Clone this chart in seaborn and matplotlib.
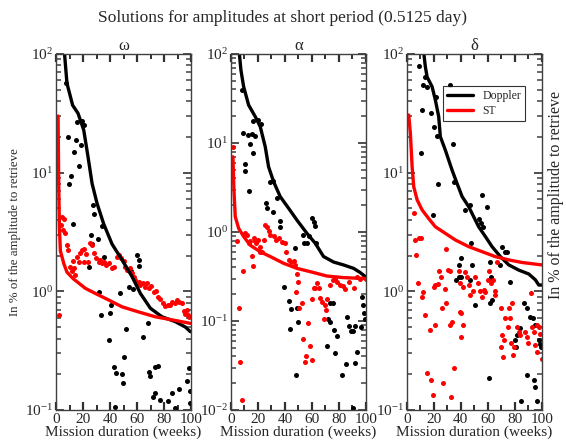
import numpy as np
import pandas as pd
import matplotlib
matplotlib.use('Agg')
import matplotlib.pyplot as plt
import seaborn as sns
from matplotlib.ticker import LogLocator, NullFormatter
from matplotlib.lines import Line2D

# ---- omega panel ----
w_dop_line_x = [6.0, 8.1, 12.3, 16.3, 20.5, 23.7, 26.7, 30.4, 35.3, 41.5, 48.9, 56.3, 62.5, 69.9, 78.5, 88.4, 95.8, 99.5]
w_dop_line_y = [110, 56.6, 37, 31.6, 22.9, 13.6, 8.1, 5.5, 3.7, 2.5, 1.84, 1.33, 0.96, 0.72, 0.61, 0.555, 0.50, 0.457]
w_st_line_x = [1.5, 2.0, 2.5, 3.2, 5.7, 8.1, 13.0, 21.7, 29.1, 39.0, 48.9, 61.2, 73.6, 85.9, 99.5]
w_st_line_y = [30, 8.0, 3.5, 2.2, 1.72, 1.45, 1.27, 1.06, 0.96, 0.845, 0.74, 0.67, 0.61, 0.575, 0.537]
w_dop_pts_x = [7.4, 15.6, 19.3, 20.5, 8.6, 15.1, 18.8, 13.6, 16.8, 11.1, 9.9, 27.4, 28.4, 34.1, 12.6, 25.9,
               30.9, 26.7, 35.3, 24.7, 60.0, 61.2, 61.7, 55.8, 53.8, 57.0, 31.6, 47.2, 41.0, 40.2, 33.3, 68.1,
               51.9, 39.0, 64.2, 50.6, 42.7, 44.7, 48.9, 49.6, 69.1, 69.9, 73.6, 75.6, 73.6, 71.9, 77.3, 83.0,
               85.9, 91.4, 98.3, 97.0, 99.0, 99.5, 87.9, 43.5]
w_dop_pts_y = [57, 26.9, 27, 25, 19.9, 18.8, 17.1, 15, 11.4, 9.4, 8.0, 5.35, 4.5, 3.57, 3.69, 3.0,
               2.74, 2.49, 1.96, 1.59, 2.02, 1.84, 1.63, 1.47, 1.08, 1.04, 0.99, 0.97, 0.77, 0.66, 0.63, 0.545,
               0.48, 0.39, 0.41, 0.278, 0.229, 0.204, 0.2, 0.168, 0.209, 0.195, 0.232, 0.234, 0.14, 0.129, 0.121, 0.119,
               0.138, 0.149, 0.228, 0.177, 0.144, 0.115, 0.103, 0.105]
w_st_pts_x = [2.5, 4.4, 6.2, 4.0, 5.2, 6.9, 8.1, 8.9, 10.6, 11.9, 13.1, 14.3, 12.3, 15.6, 16.8, 18.0, 19.3,
              21.0, 22.2, 20.5, 23.7, 25.4, 26.7, 28.4, 29.9, 31.6, 32.8, 34.1, 35.8, 37.3, 39.0, 41.5, 43.2,
              45.2, 46.4, 48.1, 50.0, 51.4, 52.6, 54.6, 56.3, 57.5, 58.8, 60.0, 61.2, 62.5, 64.2, 66.2, 67.4,
              68.6, 70.6, 72.3, 74.1, 75.6, 77.3, 79.3, 81.0, 82.7, 84.2, 85.9, 87.9, 89.6, 91.4, 93.3, 94.6,
              95.8, 97.0, 98.8, 97.8]
w_st_pts_y = [0.63, 4.26, 4.1, 3.6, 3.3, 3.1, 2.45, 2.23, 1.61, 1.47, 1.56, 1.37, 1.81, 1.96, 1.78, 2.09, 2.23,
              2.26, 2.06, 1.77, 1.78, 2.53, 2.48, 2.12, 1.9, 1.75, 1.83, 1.72, 1.78, 1.67, 1.72, 1.56, 1.61,
              1.96, 2.02, 1.9, 1.81, 1.61, 1.51, 1.56, 1.42, 1.33, 1.25, 1.17, 1.2, 1.13, 1.17, 1.08, 1.17,
              1.06, 1.1, 0.99, 1.01, 0.90, 0.86, 0.79, 0.75, 0.77, 0.76, 0.82, 0.79, 0.845, 0.82, 0.79, 0.68,
              0.65, 0.70, 0.61, 0.63]

# ---- alpha panel ----
a_dop_line_x = [6.0, 7.4, 9.4, 13.1, 18.0, 21.7, 25.4, 27.9, 31.6, 36.5, 42.7, 48.9, 56.3, 62.5, 68.6, 76.0, 83.5, 90.9, 95.8, 99.5]
a_dop_line_y = [110, 66, 43, 26.7, 19.8, 15.3, 9.1, 5.4, 3.68, 2.5, 1.85, 1.36, 0.966, 0.746, 0.53, 0.46, 0.426, 0.39, 0.35, 0.316]
a_st_line_x = [1.5, 2.2, 3.2, 5.7, 9.4, 14.3, 21.7, 29.1, 39.0, 48.9, 58.8, 71.1, 83.5, 99.5]
a_st_line_y = [7.0, 3.0, 1.49, 1.1, 0.89, 0.71, 0.6, 0.53, 0.445, 0.39, 0.358, 0.32, 0.307, 0.30]
a_dop_pts_x = [8.1, 8.9, 12.3, 15.6, 18.0, 14.3, 16.3, 10.6, 10.1, 13.1, 16.0, 19.8, 22.5, 29.1, 30.9, 34.1,
               26.2, 26.7, 30.9, 36.0, 36.5, 60.0, 61.2, 62.5, 53.3, 54.3, 56.3, 57.5, 63.2, 47.7, 39.5, 43.2,
               48.9, 44.7, 49.6, 43.9, 48.4, 75.6, 73.6, 71.6, 73.6, 76.0, 78.5, 71.1, 77.0, 85.9, 87.2, 88.9,
               90.4, 91.6, 97.0, 97.8, 98.8, 99.0, 96.5, 93.3, 92.1, 85.2, 82.2, 90.4]
a_dop_pts_y = [39.4, 13.1, 12.3, 12.6, 12, 9.75, 7.7, 5.75, 4.9, 2.89, 17.8, 18.3, 16.3, 3.6, 3.7, 2.39,
               2.1, 1.84, 1.66, 1.33, 1.15, 1.43, 1.3, 1.18, 0.925, 0.746, 0.746, 0.91, 0.76, 0.667, 0.239, 0.169,
               0.139, 0.135, 0.098, 0.081, 0.0247, 0.158, 0.16, 0.104, 0.098, 0.0794, 0.068, 0.052, 0.044, 0.112, 0.088, 0.077,
               0.077, 0.088, 0.187, 0.151, 0.122, 0.104, 0.085, 0.045, 0.0334, 0.033, 0.0247, 0.0105]
a_st_pts_x = [1.5, 4.4, 8.9, 6.2, 6.9, 8.1, 15.6, 16.3, 10.6, 11.9, 13.1, 14.3, 16.8, 18.0, 18.8, 20.0,
              21.7, 22.9, 21.2, 24.2, 25.4, 26.7, 27.9, 29.1, 31.6, 33.6, 35.8, 37.8, 39.8, 41.0, 42.7, 44.7,
              46.4, 47.7, 48.9, 49.6, 48.4, 50.1, 52.6, 57.0, 53.3, 58.3, 55.8, 54.6, 59.8, 61.2, 62.5, 63.7,
              64.9, 60.0, 65.7, 67.4, 69.4, 71.1, 70.1, 68.6, 73.6, 75.6, 76.8, 78.5, 81.0, 83.0, 84.2, 87.2,
              90.9, 93.3, 95.8, 98.3, 100.0]
a_st_pts_y = [9.1, 0.8, 0.365, 0.141, 0.035, 0.013, 0.54, 0.41, 0.966, 0.925, 0.746, 0.79, 0.85, 0.8, 0.75, 0.82,
              0.68, 0.6, 0.6, 0.82, 1.2, 1.13, 1.03, 0.93, 0.89, 0.82, 0.86, 0.78, 0.75, 0.6, 0.48, 0.46,
              0.47, 0.425, 0.337, 0.277, 0.214, 0.141, 0.16, 0.096, 0.063, 0.052, 0.04, 0.035, 0.036, 0.233, 0.235, 0.27,
              0.233, 0.175, 0.18, 0.165, 0.151, 0.175, 0.133, 0.104, 0.253, 0.289, 0.3, 0.276, 0.253, 0.248, 0.227, 0.276,
              0.233, 0.315, 0.3, 0.315, 0.3]

# ---- delta panel ----
d_dop_line_x = [12.3, 13.8, 15.1, 18.8, 21.2, 23.7, 24.9, 28.6, 33.6, 37.3, 41.0, 45.9, 49.6, 53.3, 58.3, 63.2,
                69.4, 75.6, 83.0, 90.4, 95.3, 97.8, 100.0]
d_dop_line_y = [110, 78, 64, 53, 41, 29.6, 20.1, 15.5, 10.5, 8.1, 6.3, 5.17, 4.25, 3.5, 2.89, 2.38,
                1.96, 1.67, 1.51, 1.4, 1.25, 1.13, 1.13]
d_st_line_x = [1.5, 2.7, 4.0, 5.2, 7.7, 11.4, 16.3, 21.2, 28.6, 36.0, 45.9, 55.8, 65.7, 75.6, 85.4, 100.0]
d_st_line_y = [30.6, 21.4, 11.2, 7.6, 5.9, 4.85, 4.1, 3.5, 3.08, 2.71, 2.38, 2.16, 1.96, 1.84, 1.75, 1.67]
d_dop_pts_x = [9.4, 13.3, 12.1, 15.3, 11.4, 18.3, 20.0, 22.5, 32.3, 21.8, 10.6, 34.1, 23.0, 34.8, 55.8, 59.5,
               19.5, 43.5, 47.2, 53.3, 55.3, 56.8, 70.6, 72.6, 74.6, 69.4, 47.7, 40.5, 38.5, 48.4, 40.5, 39.0,
               36.5, 47.2, 62.0, 62.7, 76.8, 50.4, 62.0, 63.2, 61.2, 87.2, 89.1, 91.6, 93.6, 95.3, 97.8, 99.0,
               99.8, 81.7, 80.5, 84.2, 81.2, 89.1, 94.1, 95.3, 84.9, 96.5]
d_dop_pts_y = [79, 63.6, 55, 53, 33.7, 31.6, 24.1, 20.5, 55, 43.6, 14.6, 17.3, 8.1, 8.4, 6.48, 5.17,
               4.4, 4.84, 5.3, 4.1, 3.74, 3.5, 2.38, 2.16, 2.14, 1.67, 2.53, 1.9, 1.67, 1.67, 1.33, 1.33,
               1.25, 1.25, 1.78, 1.33, 1.21, 0.77, 0.79, 0.84, 0.185, 0.79, 0.73, 0.61, 0.6, 0.52, 0.39, 0.36,
               0.34, 0.43, 0.39, 0.49, 0.34, 0.197, 0.179, 0.157, 0.12, 0.118]
d_st_pts_x = [5.2, 6.4, 9.4, 10.6, 6.9, 8.1, 11.9, 11.4, 13.3, 17.5, 21.2, 15.1, 18.3, 19.3, 26.7, 33.1,
              34.8, 23.7, 25.4, 20.0, 21.2, 23.0, 28.1, 29.1, 30.4, 31.9, 26.2, 29.4, 31.9, 33.6, 38.5, 39.8,
              41.5, 43.5, 44.7, 45.9, 47.2, 48.9, 50.9, 52.8, 54.6, 55.8, 57.0, 58.3, 60.2, 61.2, 62.7, 63.7,
              65.2, 65.7, 39.8, 40.5, 40.5, 41.7, 70.1, 73.1, 75.6, 76.8, 70.6, 71.9, 77.5, 79.8, 78.8, 70.1,
              71.4, 81.7, 83.0, 84.2, 89.1, 87.9, 89.9, 92.8, 94.6, 96.5, 97.8, 99.0, 92.3, 95.3, 96.5, 100.0,
              78.0, 75.0, 66.7]
d_st_pts_y = [4.54, 2.71, 2.8, 2.82, 2.02, 1.17, 0.98, 0.89, 0.63, 0.47, 0.52, 0.204, 0.179, 0.134, 0.168, 0.129,
              0.228, 1.49, 1.33, 1.08, 1.13, 1.16, 1.04, 2.27, 1.5, 1.48, 0.72, 0.79, 0.52, 0.55, 1.47, 1.17,
              1.08, 1.46, 1.33, 1.13, 0.93, 1.01, 1.33, 1.17, 1.01, 0.9, 1.03, 0.98, 1.25, 1.49, 1.17, 1.25,
              1.01, 0.93, 0.67, 0.66, 0.41, 0.52, 0.72, 0.6, 0.72, 0.6, 0.43, 0.39, 0.365, 0.34, 0.29, 0.34,
              0.28, 0.5, 0.457, 0.43, 0.41, 0.457, 0.37, 0.5, 0.457, 0.52, 0.5, 0.44, 0.96, 0.35, 0.31, 0.27,
              0.8, 0.5, 1.78]

x_major = [0, 20, 40, 60, 80, 100]
x_minor = [10, 30, 50, 70, 90]

panels = [
    ('ω', (0.1, 100), w_dop_line_x, w_dop_line_y, w_st_line_x, w_st_line_y,
     w_dop_pts_x, w_dop_pts_y, w_st_pts_x, w_st_pts_y),
    ('α', (0.01, 100), a_dop_line_x, a_dop_line_y, a_st_line_x, a_st_line_y,
     a_dop_pts_x, a_dop_pts_y, a_st_pts_x, a_st_pts_y),
    ('δ', (0.1, 100), d_dop_line_x, d_dop_line_y, d_st_line_x, d_st_line_y,
     d_dop_pts_x, d_dop_pts_y, d_st_pts_x, d_st_pts_y),
]

edge = '#404040'
sns.set_style('ticks')
plt.rcParams['font.family'] = ['Liberation Serif', 'DejaVu Serif']
plt.rcParams['mathtext.fontset'] = 'stix'

fig = plt.figure(figsize=(5.66, 4.47), dpi=100)
lefts = [0.099, 0.408, 0.7186]

for left, (name, ylim, dlx, dly, slx, sly, dpx, dpy, spx, spy) in zip(lefts, panels):
    ax = fig.add_axes([left, 0.0828, 0.2385, 0.7964])
    sns.lineplot(x=dlx, y=dly, ax=ax, color='black', lw=2.4, estimator=None, sort=False)
    sns.lineplot(x=slx, y=sly, ax=ax, color='red', lw=2.4, estimator=None, sort=False)
    sns.scatterplot(x=dpx, y=dpy, ax=ax, color='black', s=13, linewidth=0)
    sns.scatterplot(x=spx, y=spy, ax=ax, color='red', s=13, linewidth=0)
    ax.set_yscale('log')
    ax.set_ylim(*ylim)
    ax.set_xticks(x_major)
    ax.set_xticks(x_minor, minor=True)
    ax.set_xlim(0, 100)
    ax.yaxis.set_major_locator(LogLocator(base=10))
    ax.yaxis.set_minor_locator(LogLocator(base=10, subs=np.arange(2, 10)))
    ax.yaxis.set_minor_formatter(NullFormatter())
    for sp in ax.spines.values():
        sp.set_color(edge)
        sp.set_linewidth(1.0)
    ax.set_title(name, fontsize=12, pad=3)
    ax.set_xlabel('Mission duration (weeks)', fontsize=11, labelpad=0)
    ax.set_ylabel('')
    if name == 'δ':
        handles = [Line2D([], [], color='black', lw=2.4), Line2D([], [], color='red', lw=2.4)]
        leg = ax.legend(handles, ['Doppler', 'ST'], loc='upper left', bbox_to_anchor=(0.267, 0.91),
                        borderaxespad=0, fontsize=8.5, frameon=True, fancybox=False,
                        handlelength=2.2, borderpad=0.35, labelspacing=0.25, handletextpad=0.8)
        leg.get_frame().set_edgecolor('black')
        leg.get_frame().set_linewidth(0.8)
    # ticks: inward on all four sides
    ax.xaxis.set_tick_params(which='major', direction='in', top=True, bottom=True,
                             color='#303030', width=1.6, length=6, labelsize=11, pad=2)
    ax.xaxis.set_tick_params(which='minor', direction='in', top=True, bottom=True,
                             color='#303030', width=1.4, length=3.5)
    ax.yaxis.set_tick_params(which='major', direction='in', left=True, right=True,
                             color=edge, width=1.3, length=6, labelsize=11, pad=2)
    ax.yaxis.set_tick_params(which='minor', direction='in', left=True, right=True,
                             color=edge, width=1.1, length=3.5)

fig.suptitle('Solutions for amplitudes at short period (0.5125 day)', fontsize=12.5, y=0.978)
fig.text(0.026, 0.48, 'In % of the amplitude to retrieve', rotation=90, fontsize=9.3,
         ha='center', va='center')
fig.text(0.982, 0.563, 'In % of the amplitude to retrieve', rotation=90, fontsize=11.5,
         ha='center', va='center')

fig.savefig('out.png', dpi=100)
